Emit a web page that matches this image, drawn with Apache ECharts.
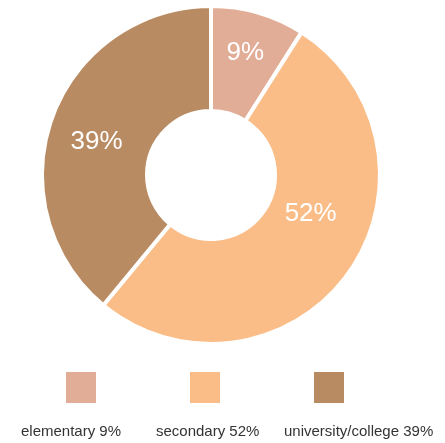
<!DOCTYPE html>
<html>
<head>
<meta charset="utf-8">
<script src="https://cdn.jsdelivr.net/npm/echarts@6/dist/echarts.min.js"></script>
<style>
  html, body { margin: 0; padding: 0; background: #ffffff; }
  #chart { width: 445px; height: 443px; }
</style>
</head>
<body>
<div id="chart"></div>
<script>
// Education level shares
const categories = ['elementary', 'secondary', 'university/college'];
const shares = [9, 52, 39];
const colors = ['#E2AD97', '#FABD87', '#B98B62'];

// Label nudges inside each ring segment, and legend placement
const labelOffsets = [[1, -7], [3, -31], [-2, 7]];
const swatchLeft = [64, 188, 312];
const textLeft = [15, 150, 278];

const FONT = '"Liberation Sans", Arial, Helvetica, sans-serif';

const pieData = categories.map((name, i) => ({
  name: name,
  value: shares[i],
  itemStyle: { color: colors[i] },
  label: { offset: labelOffsets[i] }
}));

const legends = [];
categories.forEach((name, i) => {
  // colour swatch
  legends.push({
    data: [name],
    left: swatchLeft[i],
    top: 370,
    padding: 0,
    itemWidth: 32,
    itemHeight: 33,
    icon: 'rect',
    selectedMode: false,
    formatter: () => '',
    textStyle: { fontSize: 1 }
  });
  // caption under the swatch
  legends.push({
    data: [name],
    left: textLeft[i],
    top: 424,
    padding: 0,
    itemWidth: 0,
    itemHeight: 0,
    itemGap: 0,
    icon: 'rect',
    selectedMode: false,
    formatter: (n) => n + ' ' + shares[categories.indexOf(n)] + '%',
    textStyle: { fontFamily: FONT, fontSize: 15, color: '#333333' }
  });
});

const chart = echarts.init(document.getElementById('chart'), null, { renderer: 'canvas' });
chart.setOption({
  animation: false,
  legend: legends,
  series: [{
    type: 'pie',
    center: [211, 175],
    radius: [64, 169],
    startAngle: 90,
    clockwise: true,
    avoidLabelOverlap: false,
    data: pieData,
    itemStyle: { borderColor: '#ffffff', borderWidth: 4 },
    label: {
      show: true,
      position: 'inside',
      formatter: '{c}%',
      color: '#ffffff',
      fontFamily: FONT,
      fontSize: 26
    },
    labelLine: { show: false },
    emphasis: { disabled: true }
  }]
});
</script>
</body>
</html>
